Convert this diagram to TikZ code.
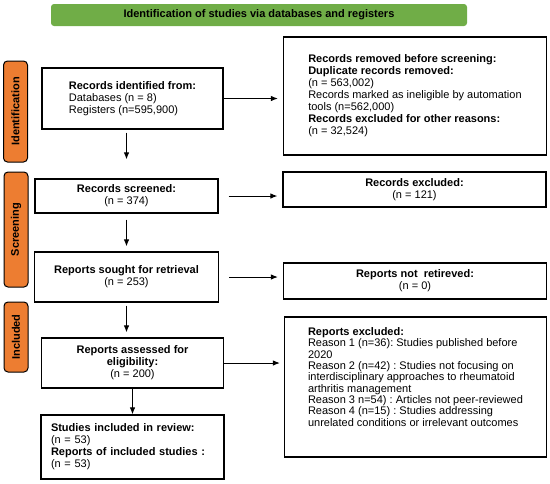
\documentclass[tikz,border=0pt]{standalone}
\usepackage{fontspec}
\setmainfont{Liberation Sans}
\usepackage{tikz}
\usetikzlibrary{positioning,arrows.meta}

\definecolor{phaseorange}{RGB}{237,125,49}
\definecolor{headgreen}{RGB}{112,173,71}

\tikzset{
  box/.style={draw, line width=1.2pt, inner sep=2pt, font=\fontsize{11}{12}\selectfont\frenchspacing},
  phase/.style={draw, line width=1pt, fill=phaseorange, rounded corners=4pt, rotate=90,
    minimum height=24pt, inner sep=0pt, font=\fontsize{11}{12}\selectfont\bfseries},
  arr/.style={-{Latex[length=7pt,width=5.5pt]}, line width=1pt},
}

\begin{document}
\begin{tikzpicture}[x=1pt,y=1pt,node distance=80pt,on grid]
\useasboundingbox (0,0) rectangle (550,-483);

\node[box, minimum width=181pt, minimum height=61pt, align=left] (ident) at (132.5,-98.5)
  {\textbf{Records identified from:}\\ Databases (n = 8)\\ Registers (n=595,900)};
\node[fill=headgreen, rounded corners=3pt, minimum width=416pt, minimum height=22pt,
  font=\fontsize{11}{12}\selectfont\bfseries] (head) [above=83.5pt of ident, xshift=126.5pt]
  {Identification of studies via databases and registers};
\node[box, minimum width=183pt, minimum height=34pt, align=center] (screened) [below=97.5pt of ident, xshift=-6pt]
  {\textbf{Records screened:}\\ (n = 374)};
\node[box, minimum width=184pt, minimum height=50pt, align=center] (sought) [below=81pt of screened]
  {\textbf{Reports sought for retrieval}\\ (n = 253)};
\node[box, minimum width=182pt, minimum height=50pt, align=center] (assessed) [below=86pt of sought, xshift=6pt]
  {\textbf{Reports assessed for}\\ \textbf{eligibility:}\\ (n = 200)};
\node[box, text width=163pt, inner xsep=10pt, minimum height=64pt, align=left] (included) [below=84pt of assessed]
  {\textbf{Studies included in review:}\\ (n = 53)\\ \textbf{Reports of included studies :}\\ (n = 53)};

\node[box, minimum width=263pt, minimum height=118pt, align=left] (removed) [right=282.5pt of ident, yshift=2.5pt]
  {\textbf{Records removed before screening:}\\ \textbf{Duplicate records removed:}\\ (n = 563,002)\\
   Records marked as ineligible by automation\\ tools (n=562,000)\\
   \textbf{Records excluded for other reasons:}\\ (n = 32,524)};
\node[box, minimum width=263pt, minimum height=35pt, align=center] (recexcl) [right=288pt of screened, yshift=6.5pt]
  {\textbf{Records excluded:}\\ (n = 121)};
\node[box, minimum width=263pt, minimum height=36pt, align=center] (notretr) [right=288.5pt of sought, yshift=-4pt]
  {\textbf{Reports not\ \ retireved:}\\ (n = 0)};
\node[box, minimum width=262pt, minimum height=140pt, align=left,
  font=\fontsize{11}{11.3}\selectfont\frenchspacing] (repexcl) [right=283pt of assessed, yshift=-24pt]
  {\textbf{Reports excluded:}\\ Reason 1 (n=36): Studies published before\\ 2020\\
   Reason 2 (n=42) : Studies not focusing on\\ interdisciplinary approaches to rheumatoid\\
   arthritis management\\ Reason 3 n=54) : Articles not peer-reviewed\\
   Reason 4 (n=15) : Studies addressing\\ unrelated conditions or irrelevant outcomes\\[9pt]\mbox{}};

% phases
\node[phase, minimum width=101pt] (ph_ident) at (15.5,-111.5) {Identification};
\node[phase, minimum width=115pt] (ph_screen) at (16,-229.5) {Screening};
\node[phase, minimum width=70pt] (ph_incl) at (16,-337) {Included};

\path[arr]
  (ident.east) edge[shorten >=5pt] (ident.east -| removed.west)
  (screened.east) edge[shorten <=10pt, shorten >=5pt] (screened.east -| recexcl.west)
  (sought.east) edge[shorten <=10pt, shorten >=5pt] (sought.east -| notretr.west)
  (assessed.east) edge[shorten >=4pt] (assessed.east -| repexcl.west)
  (screened.north |- ident.south) edge[shorten <=3pt, shorten >=19pt] (screened.north)
  (screened.south) edge[shorten <=6pt, shorten >=5pt] (screened.south |- sought.north)
  (sought.south) edge[shorten <=3pt, shorten >=5pt] (sought.south |- assessed.north)
  (assessed.south) edge (assessed.south |- included.north)
  ;
\end{tikzpicture}
\end{document}
